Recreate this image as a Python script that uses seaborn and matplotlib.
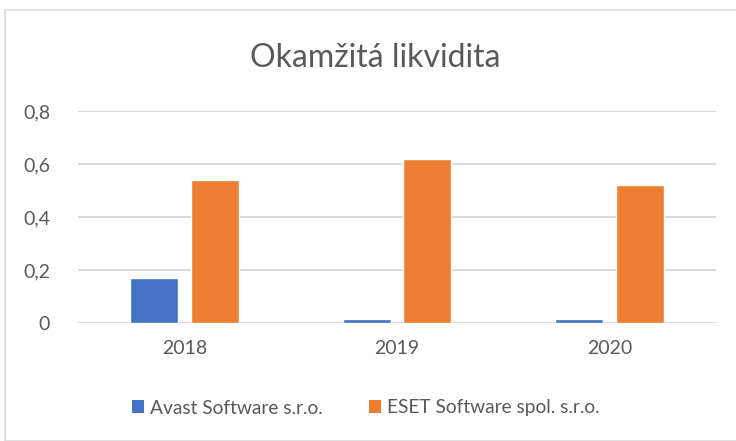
import matplotlib
matplotlib.use("Agg")
import matplotlib.pyplot as plt
import seaborn as sns
import pandas as pd
from matplotlib.patches import Rectangle, Patch

years = ["2018", "2019", "2020"]
avast = [0.17, 0.015, 0.015]
eset = [0.54, 0.62, 0.52]
series_names = ["Avast Software s.r.o.", "ESET Software spol. s.r.o."]
yticks = [0, 0.2, 0.4, 0.6, 0.8]
ytick_labels = ["0", "0,2", "0,4", "0,6", "0,8"]
colors = ["#4472C4", "#ED7D31"]

df = pd.DataFrame({
    "year": years * 2,
    "value": avast + eset,
    "series": [series_names[0]] * 3 + [series_names[1]] * 3,
})

sns.set_theme(style="white")
plt.rcParams["font.family"] = ["Lato", "DejaVu Sans"]

fig = plt.figure(figsize=(7.36, 4.41), dpi=100)
fig.patches.append(Rectangle((5 / 736, 0), 1.0, 1 - 10 / 441, transform=fig.transFigure,
                             fill=False, edgecolor="#d9d9d9", linewidth=1.2))
ax = fig.add_axes([78 / 736, (441 - 323) / 441, (716 - 78) / 736, (323 - 111) / 441])

sns.barplot(data=df, x="year", y="value", hue="series", palette=colors,
            width=0.572, gap=0.21, ax=ax, legend=False, saturation=1, zorder=3)

ax.set_xlim(-0.5, 2.5)
ax.set_ylim(0, 0.8)
ax.set_yticks(yticks)
ax.set_yticklabels(ytick_labels)
ax.yaxis.grid(True, color="#d9d9d9", linewidth=1.4, zorder=0)
ax.set_axisbelow(True)
for s in ax.spines.values():
    s.set_visible(False)
ax.tick_params(axis="both", length=0, labelsize=14, labelcolor="#595959")
ax.tick_params(axis="y", pad=20)
ax.tick_params(axis="x", pad=12)
ax.set_xlabel("")
ax.set_ylabel("")

fig.text(0.510, 1 - 58 / 441, "Okamžitá likvidita", ha="center", va="center",
         fontsize=23, color="#595959")

handles = [Patch(facecolor=c, edgecolor="none") for c in colors]
fig.legend(handles, series_names, loc="center", bbox_to_anchor=(0.497, 1 - 408 / 441),
           ncol=2, frameon=False, fontsize=13.8, labelcolor="#595959",
           handlelength=0.65, handleheight=0.65, handletextpad=0.3, columnspacing=2.4)

fig.savefig("out.png", dpi=100)
